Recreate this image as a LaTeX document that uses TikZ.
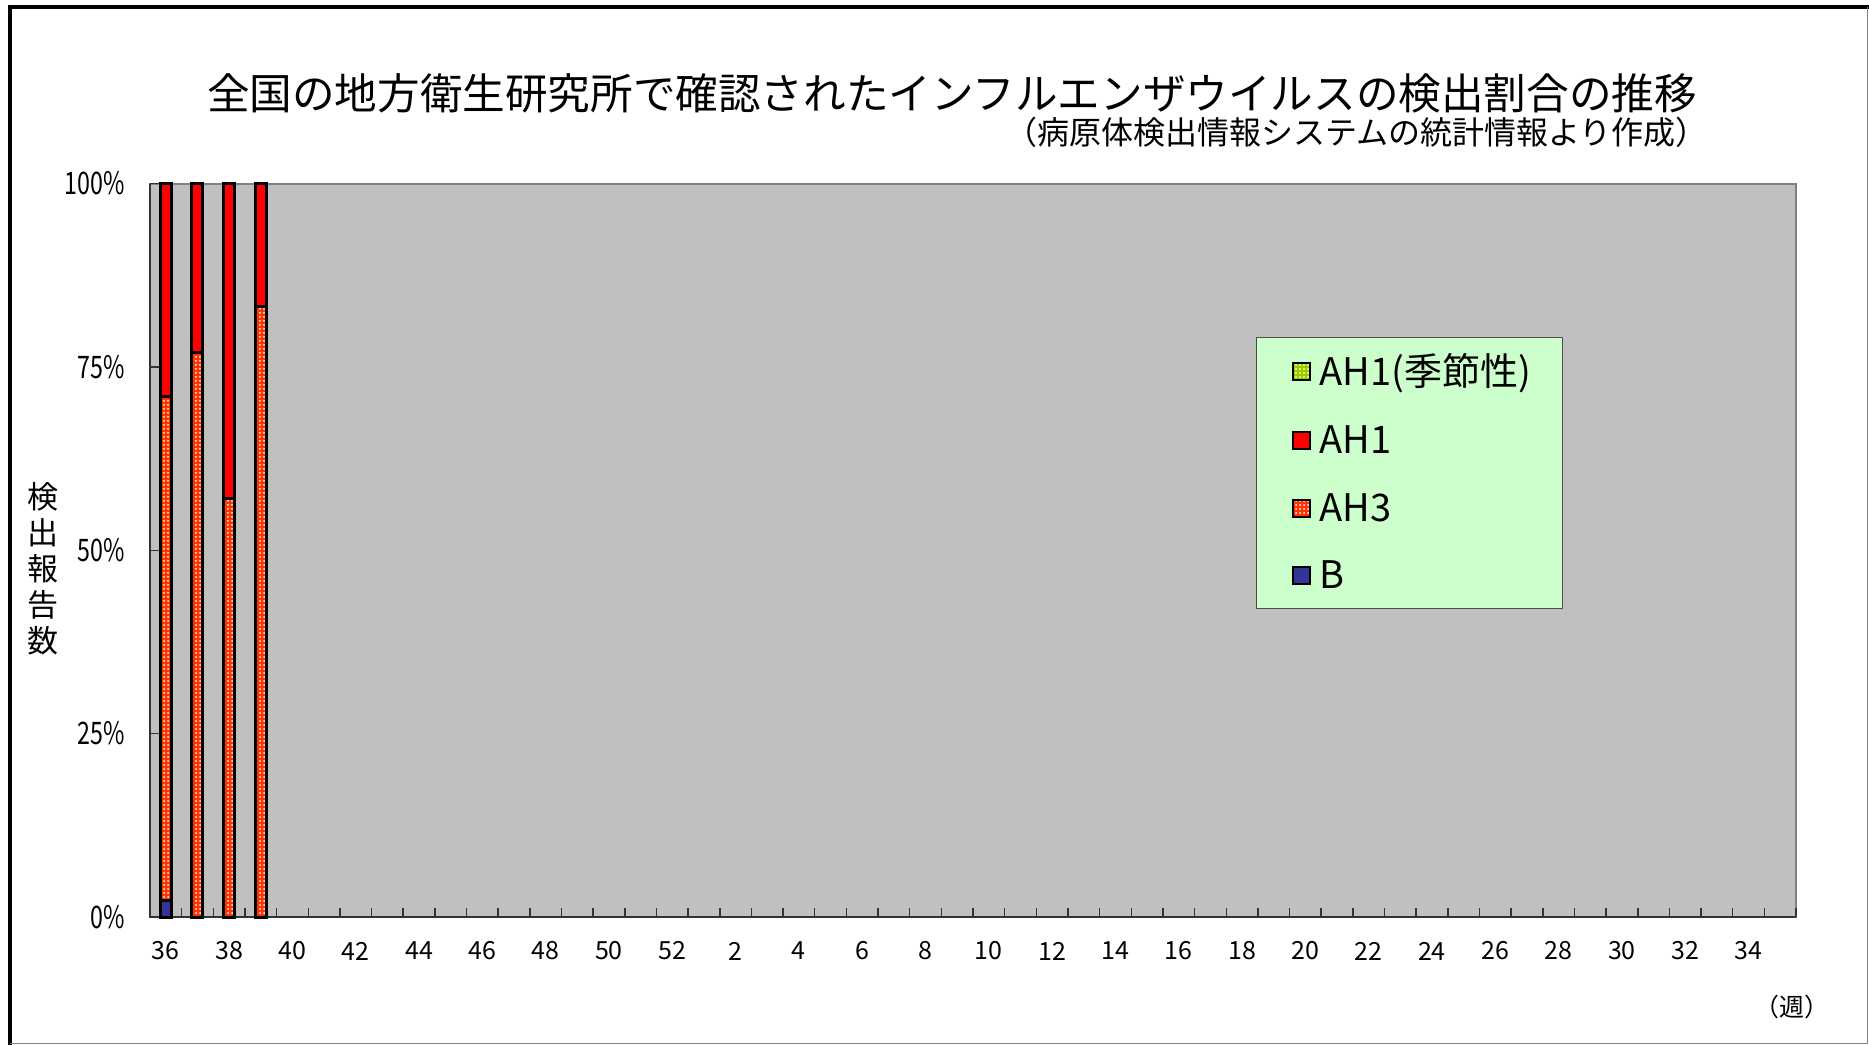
\documentclass[tikz,border=0pt]{standalone}
\usepackage{fontspec}
\setmainfont{Noto Sans CJK JP}
\usepackage{tikz}
\usetikzlibrary{patterns.meta}
\definecolor{plotgray}{RGB}{192,192,192}
\definecolor{legendgreen}{RGB}{204,255,204}
\definecolor{colAHone}{RGB}{255,0,0}
\definecolor{colAHthree}{RGB}{255,51,0}
\definecolor{colB}{RGB}{51,51,153}
\definecolor{colSeason}{RGB}{153,204,0}

\begin{document}
\begin{tikzpicture}[x=0.5pt, y=-0.5pt,
    seg/.style={draw=black, line width=1.5pt},
    ahone/.style={seg, fill=colAHone},
    ahthree/.style={seg, pattern={Dots[distance=2pt, radius=0.5pt]},
      pattern color=white, preaction={fill=colAHthree}},
    bseg/.style={seg, fill=colB},
    season/.style={seg, pattern={Dots[distance=2pt, radius=0.6pt]},
      pattern color=yellow!40, preaction={fill=colSeason}},
    legmark/.style={line width=1pt},
    ylab/.style={anchor=east, inner sep=0, font=\fontsize{15.5}{18}\selectfont},
    xlab/.style={inner sep=0, font=\fontsize{12.5}{15}\selectfont},
    leg/.style={anchor=base west, inner sep=0, font=\fontsize{19}{22}\selectfont},
  ]
  \useasboundingbox[fill=white] (0,0) rectangle (1869,1045);

  % frame
  \draw[line width=2pt] (10,1045) -- (10,7) -- (1869,7);
  \draw[gray, line width=0.5pt] (1867,7) -- (1867,1043) -- (10,1043);

  % plot area
  \coordinate (p0) at (150,917);
  \coordinate (p1) at (1795.5,183.5);
  \draw[fill=plotgray, draw=gray, line width=1pt] (p0) rectangle (p1);
  \draw[black!80, line width=1pt] (150,183.5) -- (p0) -- (1795.5,917);
  \foreach \k in {0,...,52}
    \draw[black!80, line width=0.75pt] (150+\k*31.654,917) -- ++(0,-9);
  \foreach \k in {0,...,4}
    \draw[black!80, line width=0.75pt] (150,917-\k*183.375) -- ++(9,0);

  % bars
  \foreach \i/\b/\h in {0/2.2/70.9, 1/0/76.9, 2/0/57.1, 3/0/83.3} {
    \pgfmathsetmacro\cx{150+(\i+0.5)*31.654}
    \pgfmathsetmacro\yb{917-\b*7.335}
    \pgfmathsetmacro\yh{917-\h*7.335}
    \draw[ahthree] (\cx-5.5,\yb) rectangle (\cx+5.5,\yh);
    \draw[ahone] (\cx-5.5,\yh) rectangle (\cx+5.5,183.5);
  }
  \draw[bseg] (160.3,917) rectangle (171.3,900.9);

  % axes labels
  \foreach \v/\t in {0/0\%, 1/25\%, 2/50\%, 3/75\%, 4/100\%}
    \node[ylab] (y\v) at (125,917-\v*183.375) {\scalebox{0.75}[1]{\t}};
  \foreach \i in {0,2,...,50} {
    \pgfmathtruncatemacro\wk{\i<17 ? 36+\i : \i-16}
    \node[xlab] (wk\i) at (150+\i*31.654+15.8,951) {\wk};
  }
  \node[align=center, inner sep=0, font=\fontsize{15.5}{18}\selectfont]
    (ytitle) at (43,569) {検\\出\\報\\告\\数};
  \node[inner sep=0, font=\fontsize{12.5}{14}\selectfont] (week) at (1792,1007) {（週）};

  % titles
  \node[inner sep=0, font=\fontsize{21.3}{25}\selectfont] (title) at (952,93)
    {全国の地方衛生研究所で確認されたインフルエンザウイルスの検出割合の推移};
  \node[anchor=east, inner sep=0, font=\fontsize{16}{18}\selectfont] (subtitle)
    at (1708,132) {（病原体検出情報システムの統計情報より作成）};

  % legend
  \draw[fill=legendgreen, draw=black!70, line width=0.5pt] (1256,337) rectangle (1562,608);
  \foreach \n/\y/\s/\t in {0/371.5/season/{AH1(季節性)}, 1/440/ahone/AH1,
                           2/508/ahthree/AH3, 3/575/bseg/B} {
    \draw[\s, legmark] (1293,\y-8.5) rectangle ++(17,17);
    \node[leg] (leg\n) at (1319,\y+13.5) {\t};
  }
\end{tikzpicture}
\end{document}
